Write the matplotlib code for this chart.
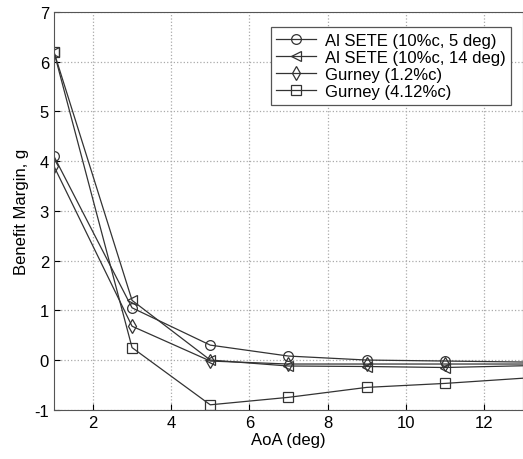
import matplotlib
matplotlib.use('Agg')
import matplotlib.pyplot as plt
import numpy as np

plt.rcParams['font.family'] = ['Liberation Sans', 'DejaVu Sans']
plt.rcParams['axes.unicode_minus'] = False

# Angle of attack (deg); the last point lies past the right edge of the axes
aoa = [1, 3, 5, 7, 9, 11, 15]

# Benefit margin, g
sete_5 = [4.1, 1.05, 0.30, 0.08, 0.00, -0.02, -0.06]
sete_14 = [6.2, 1.20, 0.00, -0.12, -0.13, -0.15, -0.08]
gurney_12 = [3.9, 0.68, -0.02, -0.08, -0.08, -0.08, -0.08]
gurney_412 = [6.2, 0.25, -0.90, -0.75, -0.55, -0.47, -0.26]

labels = ['Al SETE (10%c, 5 deg)', 'Al SETE (10%c, 14 deg)',
          'Gurney (1.2%c)', 'Gurney (4.12%c)']
markers = ['o', '<', 'd', 's']

fig = plt.figure(figsize=(5.23, 4.60), dpi=100)
ax = fig.add_axes([0.103, 0.107, 0.897, 0.865])

for y, m, lab in zip([sete_5, sete_14, gurney_12, gurney_412], markers, labels):
    ax.plot(aoa, y, marker=m, color='#333333', lw=0.9, ms=7,
            mfc='none', mec='#333333', mew=0.9, label=lab)

ax.set_xlim(1, 13)
ax.set_ylim(-1, 7)
ax.set_xticks([2, 4, 6, 8, 10, 12])
ax.set_yticks(range(-1, 8))
ax.grid(True, linestyle=':', color='#aaaaaa', lw=0.9)
ax.tick_params(direction='in', labelsize=12, length=4)
for s in ax.spines.values():
    s.set_color('#555555')
ax.set_xlabel('AoA (deg)', fontsize=12, labelpad=2)
ax.set_ylabel('Benefit Margin, g', fontsize=12)

leg = ax.legend(loc='upper right', fontsize=12, fancybox=False,
                framealpha=1, edgecolor='#555555', handlelength=2.4,
                borderpad=0.35, labelspacing=0.12, handletextpad=0.5,
                bbox_to_anchor=(0.993, 0.983))
leg.get_frame().set_linewidth(0.9)

fig.savefig('out.png', dpi=100)
